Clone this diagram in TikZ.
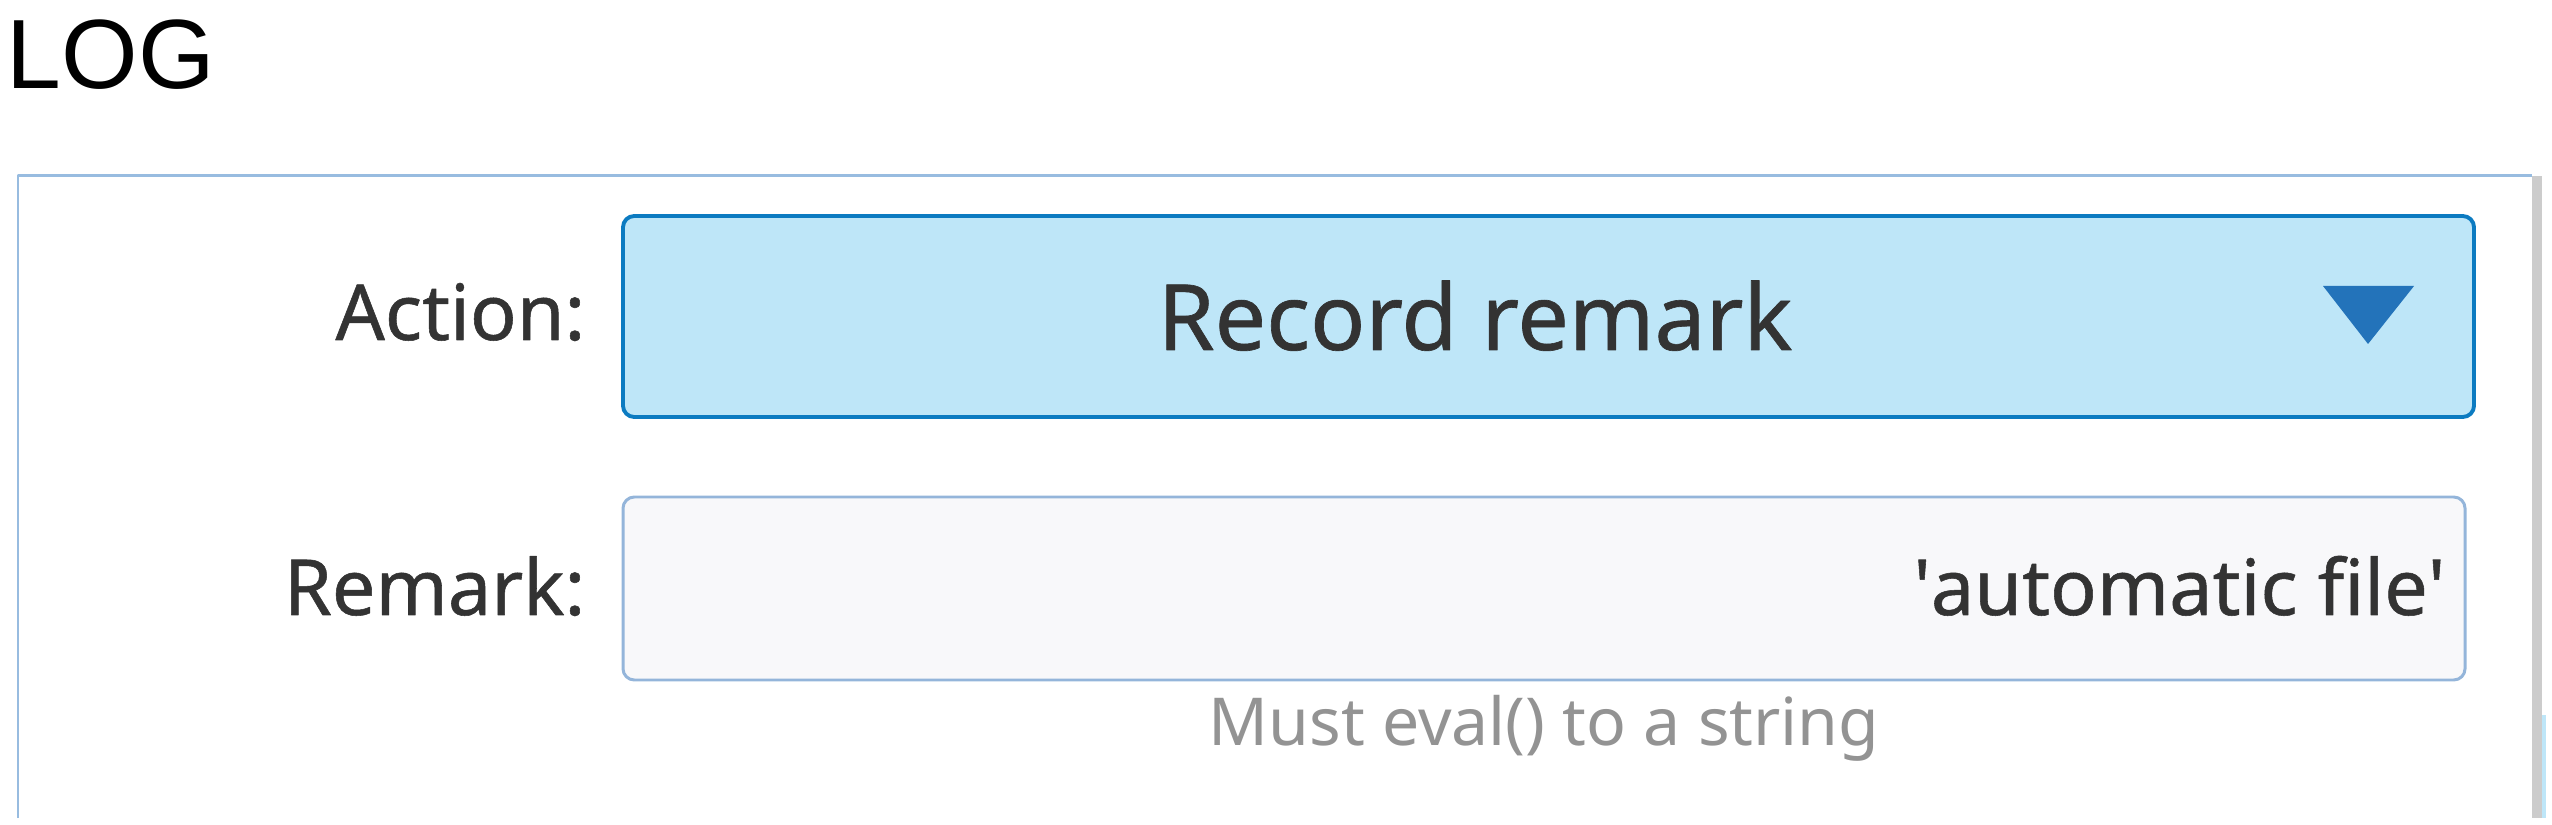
\documentclass[tikz,border=0pt]{standalone}
\usepackage{fontspec}
\setmainfont{Noto Sans}
\newfontfamily\uifont[FakeBold=0.7]{Noto Sans}
\newfontfamily\logfont{Liberation Sans}
\definecolor{khung}{RGB}{152,188,224}
\definecolor{nenchon}{RGB}{190,230,248}
\definecolor{vienchon}{RGB}{12,123,193}
\definecolor{nennhap}{RGB}{248,248,250}
\definecolor{viennhap}{RGB}{148,181,218}
\definecolor{muiten}{RGB}{35,115,186}
\definecolor{chu}{RGB}{51,51,51}
\tikzset{
  nhan/.style={anchor=base east,inner sep=0,text=chu,font=\uifont\fontsize{22}{26}\selectfont},
  hop/.style={rounded corners=3.2pt,line width=1.1pt}
}
\begin{document}
\begin{tikzpicture}[x=0.01cm,y=-0.01cm,line join = round]
	\useasboundingbox (0,0) rectangle (2552,825);
	%Tiêu đề
	\node[anchor=base west,inner sep=0,font=\logfont\fontsize{28}{32}\selectfont] (log) at (6,89) {LOG};
	%Vẽ khung
	\draw[khung,line width=0.85pt] (18,818) -- (18,176) -- (2532,176);
	\fill[gray!40] (2532,176) rectangle (2542,818);
	\fill[nenchon] (2542,715) rectangle (2546,818);
	%Vẽ các ô
	\draw[hop,fill=nenchon,draw=vienchon] (623,216) rectangle (2474,417);
	\draw[hop,fill=nennhap,draw=viennhap,line width=0.85pt] (623,497) rectangle (2465,680);
	\fill[muiten] (2323,286) -- (2414,286) -- (2368,344) -- cycle;
	%Các nhãn
	\node[nhan] (action) at (586,340) {Action:};
	\node[nhan] (remark) at (586,615) {Remark:};
	\node[anchor=base,inner sep=0,text=chu,font=\uifont\fontsize{26}{30}\selectfont] (chon) at (1475,350) {Record remark};
	\node[nhan] (giatri) at (2446,615) {\textquotesingle automatic file\textquotesingle};
	\node[anchor=base,inner sep=0,text=gray!85,font=\fontsize{18.8}{22}\selectfont] (goiy) at (1544,745) {Must eval() to a string};
\end{tikzpicture}
\end{document}
